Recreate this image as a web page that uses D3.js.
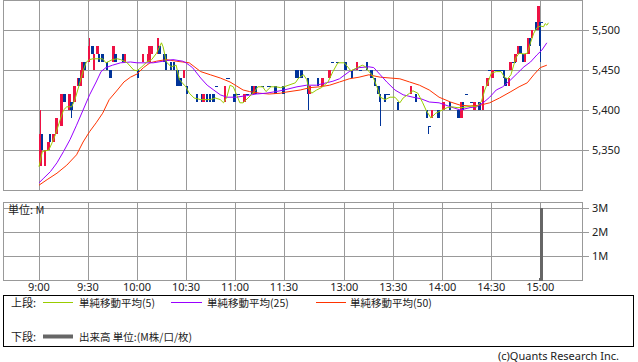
<!DOCTYPE html>
<html><head><meta charset="utf-8">
<script src="https://cdn.jsdelivr.net/npm/d3@7"></script>
<style>
html,body{margin:0;padding:0;background:#fff;}
svg{display:block;}
text{font-family:"Noto Sans","Noto Sans CJK JP",sans-serif;fill:#222;}
.jp{font-family:"Noto Sans CJK JP",sans-serif;}
</style></head>
<body>
<svg id="c" width="638" height="362"></svg>
<script>
// ---------------- DATA ----------------
const timeTicks = ["09:00","09:30","10:00","10:30","11:00","11:30","13:00","13:30","14:00","14:30","15:00"];
const priceTicks = [5350,5400,5450,5500];
const volTicks = [1,2,3];

// candles: [time, open, high, low, close]
const candles = [
["09:00",5330,5400,5330,5370],["09:01",5370,5370,5350,5350],["09:03",5330,5350,5330,5350],
["09:05",5350,5360,5350,5360],["09:06",5370,5370,5360,5360],["09:08",5360,5370,5360,5370],
["09:10",5370,5390,5370,5390],["09:13",5380,5420,5380,5420],["09:15",5420,5420,5410,5410],
["09:18",5400,5420,5400,5420],["09:19",5410,5410,5390,5400],["09:21",5410,5430,5410,5430],
["09:23",5430,5440,5430,5440],["09:24",5440,5440,5430,5430],["09:25",5430,5450,5430,5450],
["09:26",5440,5460,5440,5460],["09:27",5460,5460,5450,5450],["09:30",5460,5490,5460,5480],
["09:32",5480,5480,5470,5470],["09:33",5450,5470,5450,5470],["09:35",5470,5480,5470,5480],
["09:36",5470,5470,5460,5460],["09:38",5470,5470,5460,5460],["09:41",5460,5460,5450,5450],
["09:43",5450,5450,5440,5440],["09:45",5460,5480,5460,5480],["09:46",5470,5470,5460,5460],
["09:51",5470,5470,5460,5460],["09:52",5460,5470,5460,5470],["10:00",5450,5450,5440,5440],
["10:03",5460,5470,5460,5470],["10:06",5460,5470,5460,5470],["10:07",5460,5480,5460,5480],
["10:08",5470,5480,5470,5480],["10:12",5470,5490,5470,5490],["10:13",5480,5480,5470,5470],
["10:16",5470,5470,5460,5460],["10:17",5470,5470,5450,5450],["10:20",5460,5460,5450,5450],
["10:22",5460,5460,5450,5450],["10:24",5450,5450,5430,5430],["10:26",5440,5440,5430,5430],
["10:28",5440,5450,5440,5450],["10:30",5430,5430,5420,5420],["10:36",5420,5420,5410,5410],
["10:39",5420,5420,5410,5410],["10:40",5410,5420,5410,5420],["10:42",5420,5420,5410,5410],
["10:44",5420,5420,5410,5410],["10:46",5420,5420,5410,5410],["10:48",5430,5430,5430,5430],
["10:53",5410,5430,5410,5430],["10:55",5440,5440,5440,5440],["10:59",5420,5420,5410,5410],
["11:01",5420,5420,5420,5420],["11:05",5410,5420,5410,5420],["11:07",5420,5420,5420,5420],
["11:10",5430,5430,5420,5420],["11:11",5420,5430,5420,5430],["11:12",5430,5430,5420,5420],
["11:16",5430,5430,5430,5430],["11:20",5430,5430,5430,5430],["11:24",5430,5430,5420,5420],
["11:29",5430,5430,5420,5420],
["12:30",5450,5450,5440,5440],["12:31",5450,5450,5440,5440],["12:33",5450,5450,5440,5440],
["12:37",5440,5440,5400,5420],["12:38",5420,5430,5420,5430],["12:43",5440,5440,5430,5430],
["12:46",5430,5440,5430,5440],["12:50",5440,5450,5440,5450],["12:52",5460,5460,5460,5460],
["12:55",5460,5460,5460,5460],["13:00",5460,5460,5450,5450],["13:04",5450,5450,5440,5440],
["13:07",5450,5460,5450,5460],["13:09",5450,5450,5450,5450],["13:13",5460,5460,5450,5450],
["13:16",5450,5450,5440,5440],["13:18",5440,5440,5430,5430],["13:20",5430,5430,5420,5420],
["13:21",5420,5420,5380,5410],["13:24",5420,5420,5410,5410],["13:26",5420,5420,5420,5420],
["13:32",5410,5410,5400,5400],["13:40",5420,5430,5420,5430],["13:43",5420,5420,5410,5410],
["13:50",5400,5400,5390,5390],["13:51",5380,5380,5370,5380],["13:53",5390,5400,5390,5400],
["13:57",5400,5400,5390,5390],["14:00",5400,5410,5400,5410],["14:04",5410,5410,5400,5400],
["14:09",5400,5400,5390,5390],["14:11",5390,5410,5390,5410],["14:12",5410,5410,5400,5400],
["14:14",5420,5420,5420,5420],["14:17",5410,5410,5410,5410],["14:19",5400,5410,5400,5410],
["14:22",5410,5410,5400,5400],["14:24",5400,5430,5400,5430],["14:27",5430,5440,5430,5440],
["14:28",5450,5450,5450,5450],["14:30",5440,5450,5440,5450],["14:32",5450,5450,5450,5450],
["14:34",5450,5450,5450,5450],["14:36",5450,5450,5450,5450],["14:37",5450,5450,5440,5440],
["14:38",5440,5440,5430,5430],["14:40",5430,5440,5430,5440],["14:41",5450,5460,5450,5460],
["14:43",5460,5460,5460,5460],["14:44",5460,5470,5460,5470],["14:46",5470,5480,5470,5480],
["14:47",5480,5480,5470,5470],["14:49",5470,5470,5460,5460],["14:50",5460,5470,5460,5470],
["14:52",5470,5490,5470,5490],["14:53",5490,5490,5480,5480],["14:54",5490,5500,5490,5500],
["14:57",5510,5510,5500,5500],["14:58",5500,5530,5500,5530],["14:59",5510,5510,5460,5480],
["15:00",5510,5510,5510,5510]
];

// moving averages: [time, value]
const ma5 = [
["09:00",5329],["09:02",5348],["09:06",5350],["09:08",5359],["09:10",5369],["09:13",5388],
["09:15",5400],["09:17",5404],["09:20",5404],["09:22",5413],["09:25",5434],["09:27",5449],
["09:29",5460],["09:31",5463],["09:33",5464],["09:39",5464],["09:41",5459],["09:45",5463],
["09:48",5464],["09:50",5463],["09:54",5459],["09:58",5450],["10:00",5449],["10:03",5454],
["10:06",5460],["10:09",5463],["10:12",5471],["10:15",5484],["10:16",5479],["10:18",5460],
["10:21",5454],["10:24",5456],["10:26",5438],["10:29",5431],["10:30",5429],["10:32",5421],
["10:35",5415],["10:39",5413],["10:45",5413],["10:48",5415],["10:51",5413],["10:53",5409],
["10:55",5416],["10:57",5431],["10:59",5429],["11:01",5419],["11:03",5409],["11:05",5409],
["11:08",5415],["11:10",5419],["11:12",5423],["11:14",5429],["11:17",5429],["11:19",5423],
["11:22",5429],["11:25",5429],["11:28",5428],["11:30",5429],
["12:30",5434],["12:32",5440],["12:35",5444],["12:37",5438],["12:38",5428],["12:40",5421],
["12:43",5425],["12:46",5428],["12:50",5435],["12:53",5448],["12:56",5459],["13:00",5459],
["13:04",5449],["13:08",5453],["13:11",5456],["13:13",5454],["13:15",5448],["13:17",5444],
["13:20",5429],["13:22",5416],["13:25",5413],["13:28",5416],["13:31",5416],["13:34",5409],
["13:36",5415],["13:40",5421],["13:42",5424],["13:45",5421],["13:48",5409],["13:50",5400],
["13:53",5390],["13:56",5396],["14:00",5400],["14:03",5403],["14:06",5404],["14:09",5403],
["14:12",5403],["14:15",5404],["14:18",5405],["14:21",5404],["14:24",5411],["14:26",5425],
["14:28",5435],["14:30",5446],["14:33",5448],["14:36",5448],["14:38",5441],["14:40",5439],
["14:42",5444],["14:45",5465],["14:47",5471],["14:50",5470],["14:52",5471],["14:54",5484],
["14:56",5496],["14:58",5503],["15:00",5505],["15:02",5504],["15:03",5508],["15:04",5506],["15:05",5509]
];
const ma25 = [
["09:00",5309],["09:03",5315],["09:07",5323],["09:11",5334],["09:15",5348],["09:19",5363],
["09:23",5381],["09:27",5400],["09:31",5419],["09:35",5435],["09:38",5448],["09:41",5453],
["09:45",5456],["09:50",5459],["09:56",5460],["10:00",5459],["10:10",5459],["10:16",5461],
["10:22",5463],["10:28",5461],["10:30",5459],["10:32",5456],["10:34",5453],["10:39",5440],
["10:43",5431],["10:47",5425],["10:51",5419],["10:55",5416],["11:01",5416],["11:07",5418],
["11:13",5420],["11:19",5421],["11:25",5423],["11:30",5425],
["12:31",5429],["12:37",5431],["12:43",5431],["12:49",5434],["12:53",5436],["12:57",5439],
["13:03",5448],["13:09",5453],["13:15",5454],["13:18",5453],["13:22",5444],["13:26",5435],
["13:31",5425],["13:36",5419],["13:42",5416],["13:47",5414],["13:52",5410],["13:58",5409],
["14:05",5404],["14:11",5400],["14:17",5403],["14:21",5404],["14:25",5409],["14:29",5416],
["14:33",5425],["14:37",5429],["14:42",5438],["14:46",5446],["14:50",5454],["14:54",5460],
["14:58",5469],["15:01",5475],["15:04",5484]
];
const ma50 = [
["09:00",5306],["09:05",5313],["09:11",5321],["09:17",5331],["09:23",5344],["09:27",5360],
["09:31",5373],["09:35",5384],["09:39",5396],["09:43",5413],["09:48",5425],["09:52",5435],
["09:56",5441],["10:00",5445],["10:04",5453],["10:08",5459],["10:12",5461],["10:18",5463],
["10:24",5461],["10:32",5459],["10:39",5448],["10:45",5444],["10:51",5440],["10:57",5435],
["11:01",5430],["11:05",5425],["11:09",5423],["11:15",5421],["11:21",5420],["11:28",5421],
["11:30",5422],["12:33",5425],["12:39",5428],["12:45",5429],["12:51",5431],["12:57",5435],
["13:03",5439],["13:09",5441],["13:15",5444],["13:22",5441],["13:28",5440],["13:34",5439],
["13:40",5435],["13:46",5431],["13:52",5425],["13:58",5416],["14:05",5410],["14:11",5406],
["14:17",5405],["14:23",5406],["14:29",5409],["14:35",5415],["14:42",5423],["14:47",5429],
["14:52",5434],["14:56",5444],["15:00",5453],["15:04",5456]
];

// volume (M shares)
const volTimes = ["14:59","15:00"];
const volValues = [0.1, 3.02];

// legend labels
const legendTop = ["単純移動平均(5)","単純移動平均(25)","単純移動平均(50)"];
const legendColors = ["#99cc00","#9900ff","#ff3300"];

// ---------------- DRAW ----------------
const svg = d3.select("#c");
const L = 3, R = 582;
const upTop = 0, upBot = 190, loTop = 202, loBot = 280.5;

function sessionIdx(t){
  const [h,m] = t.split(":").map(Number);
  const mins = h*60+m;
  return mins <= 690 ? mins-540 : (mins-750)+157;
}
const x = d3.scaleLinear().domain([0,307]).range([39,540.3]);
const y = d3.scaleLinear().domain([5300,5537.5]).range([upBot,upTop]);
const yv = d3.scaleLinear().domain([0,3.25]).range([loBot,loTop]);
const px = t => x(sessionIdx(t));
const grid = "#999";

// frames
svg.append("rect").attr("x",L+0.5).attr("y",upTop+0.5).attr("width",R-L).attr("height",upBot-upTop)
  .attr("fill","none").attr("stroke",grid);
svg.append("rect").attr("x",L+0.5).attr("y",loTop+0.5).attr("width",R-L).attr("height",loBot-loTop-0.5)
  .attr("fill","none").attr("stroke",grid);

// grid verticals
timeTicks.forEach(t=>{
  const xx = Math.round(px(t))+0.5;
  svg.append("line").attr("x1",xx).attr("x2",xx).attr("y1",upTop).attr("y2",upBot).attr("stroke",grid);
  svg.append("line").attr("x1",xx).attr("x2",xx).attr("y1",loTop).attr("y2",loBot).attr("stroke",grid);
  svg.append("text").attr("x",px(t)).attr("y",291).attr("text-anchor","middle")
    .attr("font-size",11).text(t.replace(/^0/,""));
});
// price grid + ticks
priceTicks.forEach(p=>{
  const yy = Math.round(y(p))+0.5;
  svg.append("line").attr("x1",L).attr("x2",R+7).attr("y1",yy).attr("y2",yy).attr("stroke",grid);
  svg.append("text").attr("x",592).attr("y",yy).attr("dy","0.35em").attr("font-size",11)
    .text(d3.format(",")(p));
});
// volume grid + ticks
volTicks.forEach(v=>{
  const yy = Math.round(yv(v))+0.5;
  svg.append("line").attr("x1",L).attr("x2",R+7).attr("y1",yy).attr("y2",yy).attr("stroke",grid);
  svg.append("text").attr("x",592).attr("y",yy).attr("dy","0.35em").attr("font-size",11).text(v+"M");
});

// candles
const up = "#ee1144", dn = "#003399";
const cg = svg.append("g").attr("shape-rendering","crispEdges");
candles.forEach(([t,o,h,l,c])=>{
  const xl = px(t);
  const col = c>o ? up : dn;
  if (o===c){
    if (l<o) {
      cg.append("rect").attr("x",xl).attr("width",1).attr("y",y(h)).attr("height",Math.max(1,y(l)-y(h))).attr("fill",dn);
      cg.append("rect").attr("x",xl).attr("width",3).attr("y",y(o)).attr("height",1).attr("fill",dn);
    } else {
      cg.append("rect").attr("x",xl-0.5).attr("width",3.5).attr("y",y(o)).attr("height",1).attr("fill",dn);
    }
  } else {
    cg.append("rect").attr("x",xl+1).attr("width",1).attr("y",y(h)).attr("height",Math.max(1,y(l)-y(h))).attr("fill",col);
    const top = y(Math.max(o,c)), bot = y(Math.min(o,c));
    cg.append("rect").attr("x",xl).attr("width",2.5).attr("y",top).attr("height",bot-top).attr("fill",col);
  }
});

// MA lines
const line = d3.line().x(d=>px(d[0])).y(d=>y(d[1]));
[[ma50,legendColors[2]],[ma25,legendColors[1]],[ma5,legendColors[0]]].forEach(([d,col])=>{
  svg.append("path").datum(d).attr("d",line).attr("fill","none").attr("stroke",col).attr("stroke-width",1);
});

// volume bars
svg.append("g").attr("shape-rendering","crispEdges").selectAll("rect").data(volTimes).join("rect")
  .attr("x",t=>px(t)).attr("width",3).attr("y",(t,i)=>yv(volValues[i])).attr("height",(t,i)=>loBot-yv(volValues[i]))
  .attr("fill","#666");

svg.append("text").attr("class","jp").attr("x",8).attr("y",210).attr("dy","0.35em").attr("font-size",11).text("単位: M");

// legend box
svg.append("rect").attr("x",3.5).attr("y",295.5).attr("width",630).attr("height",51).attr("fill","none").attr("stroke","#000");
svg.append("text").attr("class","jp").attr("x",11).attr("y",303).attr("dy","0.35em").attr("font-size",11).text("上段:");
const legX = [[43,73,79],[171,202,207],[316,346,350]];
legendTop.forEach((s,i)=>{
  const [a,b,tx] = legX[i];
  svg.append("line").attr("x1",a).attr("x2",b).attr("y1",302.5).attr("y2",302.5).attr("stroke",legendColors[i]).attr("stroke-width",1);
  svg.append("text").attr("class","jp").attr("x",tx).attr("y",303).attr("dy","0.35em").attr("font-size",10.5).text(s);
});
svg.append("text").attr("class","jp").attr("x",11).attr("y",337).attr("dy","0.35em").attr("font-size",11).text("下段:");
svg.append("line").attr("x1",43).attr("x2",73).attr("y1",336.5).attr("y2",336.5).attr("stroke","#666").attr("stroke-width",4);
svg.append("text").attr("class","jp").attr("x",79).attr("y",337).attr("dy","0.35em").attr("font-size",10.5).text("出来高 単位:(M株/口/枚)");

svg.append("text").attr("x",619).attr("y",356).attr("dy","0.35em").attr("text-anchor","end").attr("font-size",11)
  .attr("fill","#444").text("(c)Quants Research Inc.");
</script>
</body></html>
